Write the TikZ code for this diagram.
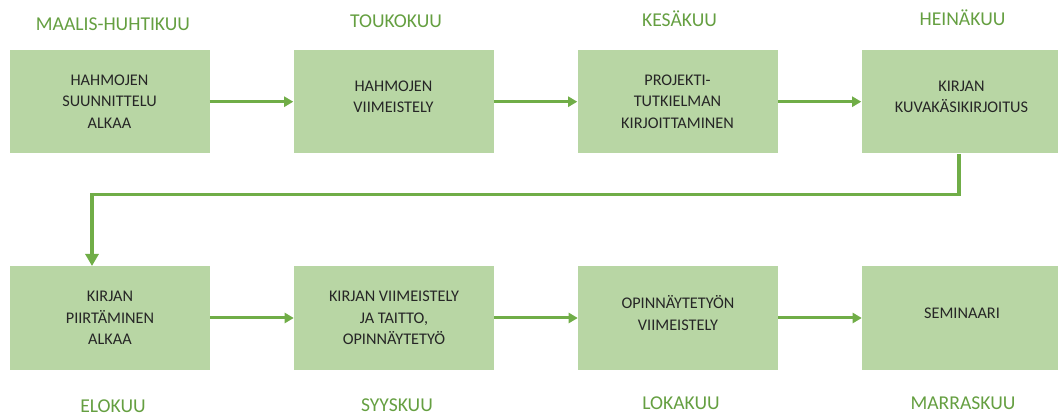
\documentclass[tikz,border=0pt]{standalone}
\usepackage{fontspec}
\setmainfont{Carlito}
\usetikzlibrary{arrows.meta,calc}
\definecolor{boxgreen}{HTML}{B8D6A4}
\definecolor{linegreen}{HTML}{70AD47}
\definecolor{monthgreen}{HTML}{659F41}
\definecolor{boxtext}{HTML}{262626}
\tikzset{
	phase/.style={fill=boxgreen, minimum width=150pt, minimum height=77.6pt, inner sep=0pt, align=center, text=boxtext, font=\fontsize{12.2}{16.3}\selectfont},
	raised/.style={text depth=7.5pt},
	month/.style={text=monthgreen, inner sep=0pt, text height=9.4pt, text depth=0pt, font=\fontsize{14.7}{17}\selectfont},
	flow/.style={draw=linegreen, line width=2.25pt, -{Triangle[length=6.75pt,width=7.5pt]}},
	bigflow/.style={draw=linegreen, line width=2.6pt, -{Triangle[length=9pt,width=9.75pt]}},
}

\begin{document}
\begin{tikzpicture}[x=0.75pt, y=-0.75pt]
		%%%%% START %%%%%
		\useasboundingbox (0, 0) rectangle (1058, 416);
		
		\node[phase] (hahmosuunnittelu) at (109.5, 101.7) {HAHMOJEN\\SUUNNITTELU\\ALKAA};
		\node[phase, raised] (hahmoviimeistely) at (393.5, 101.7) {HAHMOJEN\\VIIMEISTELY};
		\node[phase] (tutkielma) at (677.5, 101.7) {PROJEKTI-\\TUTKIELMAN\\KIRJOITTAMINEN};
		\node[phase, raised] (kasikirjoitus) at (961.5, 101.7) {KIRJAN\\KUVAKÄSIKIRJOITUS};
		
		\node[phase] (piirtaminen) at (110, 318) {KIRJAN\\PIIRTÄMINEN\\ALKAA};
		\node[phase] (taitto) at (394, 318) {KIRJAN VIIMEISTELY\\JA TAITTO,\\OPINNÄYTETYÖ};
		\node[phase, raised] (opinnayte) at (678, 318) {OPINNÄYTETYÖN\\VIIMEISTELY};
		\node[phase, raised] (seminaari) at (962, 318) {SEMINAARI};
		
		\node[month] (maalis) at (113, 24) {MAALIS-HUHTIKUU};
		\node[month] (toukokuu) at (396, 21) {TOUKOKUU};
		\node[month] (kesakuu) at (679.5, 20.5) {KESÄKUU};
		\node[month] (heinakuu) at (962.5, 19.5) {HEINÄKUU};
		\node[month] (elokuu) at (113, 406.5) {ELOKUU};
		\node[month] (syyskuu) at (397, 405.5) {SYYSKUU};
		\node[month] (lokakuu) at (681, 403.5) {LOKAKUU};
		\node[month] (marraskuu) at (963, 403) {MARRASKUU};
		
		\draw[flow] (hahmosuunnittelu) -- (hahmoviimeistely);
		\draw[flow] (hahmoviimeistely) -- (tutkielma);
		\draw[flow] (tutkielma) -- (kasikirjoitus);
		
		\draw[bigflow] ([xshift=-1.9pt]kasikirjoitus.south) -- ++(0, 41) -| ([xshift=-13.5pt]piirtaminen.north);
		
		\draw[flow] (piirtaminen) -- (taitto);
		\draw[flow] (taitto) -- (opinnayte);
		\draw[flow] (opinnayte) -- (seminaari);
		
		%%%%% END %%%%%
	\end{tikzpicture}
\end{document}
